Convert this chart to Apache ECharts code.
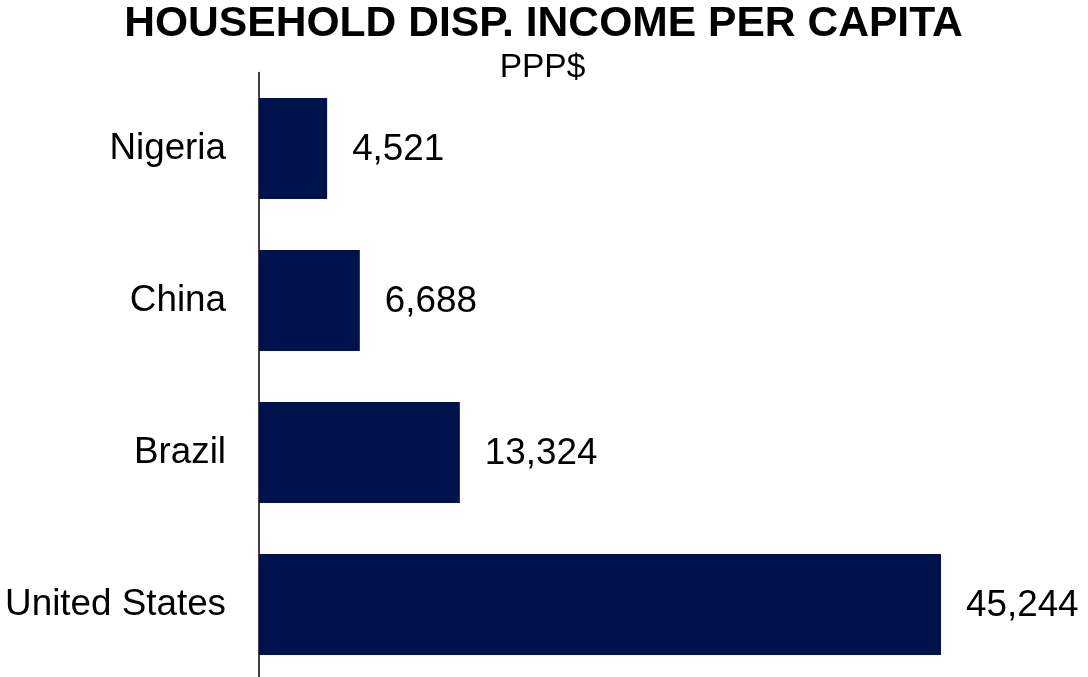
<!DOCTYPE html>
<html>
<head>
<meta charset="utf-8">
<script src="https://cdn.jsdelivr.net/npm/echarts@6/dist/echarts.min.js"></script>
<style>
html,body{margin:0;padding:0;background:#fff;}
#chart{width:1088px;height:677px;}
</style>
</head>
<body>
<div id="chart"></div>
<script>
const categories = ["Nigeria", "China", "Brazil", "United States"];
const values = [4521, 6688, 13324, 45244];
const titleText = "HOUSEHOLD DISP. INCOME PER CAPITA";
const subtitleText = "PPP$";

const chart = echarts.init(document.getElementById('chart'), null, {renderer: 'canvas'});
const font = 'Arial, "Liberation Sans", sans-serif';
chart.setOption({
  animation: false,
  backgroundColor: '#ffffff',
  title: [
    {
      text: titleText,
      left: 538.5, textAlign: 'center', top: -2,
      textStyle: {fontFamily: font, fontSize: 42.6, fontWeight: 'bold', color: '#000'}
    },
    {
      text: subtitleText,
      left: 537.5, textAlign: 'center', top: 46,
      textStyle: {fontFamily: font, fontSize: 33.5, fontWeight: 'normal', color: '#000'}
    }
  ],
  grid: {left: 259, top: 72.5, width: 753.7, height: 608, containLabel: false, outerBoundsMode: 'none'},
  xAxis: {
    type: 'value', min: 0, max: 50000, show: false
  },
  yAxis: {
    type: 'category', data: categories, inverse: true,
    axisLine: {show: true, lineStyle: {color: '#000', width: 1.5}},
    axisTick: {show: false},
    axisLabel: {fontFamily: font, fontSize: 36.8, color: '#000', margin: 33, padding: [3, 0, 0, 0]},
    splitLine: {show: false}
  },
  series: [{
    type: 'bar',
    data: values,
    barWidth: 101,
    itemStyle: {color: '#00124C'},
    label: {
      show: true, position: 'right', distance: 25, offset: [0, 1.5],
      fontFamily: font, fontSize: 36.8, color: '#000',
      formatter: p => p.value.toLocaleString('en-US')
    }
  }]
});
</script>
</body>
</html>
